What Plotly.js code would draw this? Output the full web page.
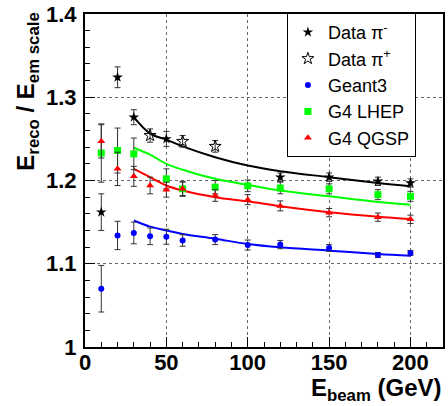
<!DOCTYPE html>
<html>
<head>
<meta charset="utf-8">
<script src="https://cdn.plot.ly/plotly-3.0.1.min.js"></script>
<style>html,body{margin:0;padding:0;background:#fff;}#plot{width:448px;height:406px;}</style>
</head>
<body>
<div id="plot"></div>
<script>
// ---- data ----
const E_pim = [10, 20, 30, 50, 120, 150, 180, 200];
const dataPiMinus = [1.162, 1.324, 1.276, 1.250, 1.204, 1.204, 1.199, 1.197];
const errPiMinus = [0.022, 0.0125, 0.009, 0.009, 0.005, 0.005, 0.005, 0.005];

const E_pip = [40, 60, 80];
const dataPiPlus = [1.254, 1.247, 1.241];
const errPiPlus = [0.008, 0.007, 0.007];

const E_g3 = [10, 20, 30, 40, 50, 60, 80, 100, 120, 150, 180, 200];
const geant3 = [1.070, 1.134, 1.137, 1.133, 1.1325, 1.128, 1.129, 1.1225, 1.123, 1.119, 1.1105, 1.113];
const errGeant3 = [0.028, 0.017, 0.013, 0.010, 0.009, 0.007, 0.006, 0.006, 0.005, 0.004, 0.003, 0.003];

const E_lhep = [10, 20, 30, 50, 60, 80, 100, 120, 150, 180, 200];
const g4lhep = [1.233, 1.236, 1.232, 1.202, 1.190, 1.192, 1.1936, 1.191, 1.190, 1.183, 1.181];
const errLhep = [0.035, 0.027, 0.019, 0.012, 0.009, 0.008, 0.007, 0.007, 0.006, 0.006, 0.006];

const E_qgsp = [10, 20, 30, 40, 50, 60, 80, 100, 120, 150, 180, 200];
const g4qgsp = [1.247, 1.214, 1.205, 1.194, 1.189, 1.190, 1.182, 1.177, 1.1695, 1.1614, 1.156, 1.1534];
const errQgsp = [0.020, 0.020, 0.012, 0.010, 0.009, 0.008, 0.007, 0.006, 0.006, 0.005, 0.005, 0.005];

// fit curves
const E_fit = [30, 40, 50, 60, 80, 100, 120, 150, 180, 200];
const fitData = [1.276, 1.2563, 1.249, 1.241, 1.228, 1.218, 1.2112, 1.204, 1.197, 1.193];
const fitLhep = [1.2394, 1.231, 1.220, 1.2129, 1.202, 1.1948, 1.188, 1.181, 1.1743, 1.171];
const fitQgsp = [1.214, 1.204, 1.194, 1.188, 1.180, 1.175, 1.169, 1.162, 1.1566, 1.1538];
const fitG3 = [1.152, 1.1446, 1.140, 1.1358, 1.130, 1.1237, 1.1197, 1.1157, 1.1117, 1.1096];

const legendNames = ['Data π<sup>-</sup>', 'Data π<sup>+</sup>', 'Geant3', 'G4 LHEP', 'G4 QGSP'];

const ebar = arr => ({type: 'data', array: arr, color: '#333', thickness: 1, width: 3});
const fitLine = (y, c) => ({x: E_fit, y: y, mode: 'lines', line: {color: c, width: 2, shape: 'spline'}, showlegend: false, hoverinfo: 'skip'});

const traces = [
  fitLine(fitData, '#000000'),
  fitLine(fitLhep, '#00ff00'),
  fitLine(fitQgsp, '#ff0000'),
  fitLine(fitG3, '#0000ff'),
  {x: E_pim, y: dataPiMinus, mode: 'markers', name: legendNames[0], error_y: ebar(errPiMinus),
   marker: {symbol: 'star', size: 8, color: '#000'}},
  {x: E_pip, y: dataPiPlus, mode: 'markers', name: legendNames[1], error_y: ebar(errPiPlus),
   marker: {symbol: 'star-open', size: 9, color: '#000', line: {width: 1, color: '#000'}}},
  {x: E_g3, y: geant3, mode: 'markers', name: legendNames[2], error_y: ebar(errGeant3),
   marker: {symbol: 'circle', size: 6, color: '#0000ff'}},
  {x: E_lhep, y: g4lhep, mode: 'markers', name: legendNames[3], error_y: ebar(errLhep),
   marker: {symbol: 'square', size: 7, color: '#00ff00'}},
  {x: E_qgsp, y: g4qgsp, mode: 'markers', name: legendNames[4], error_y: ebar(errQgsp),
   marker: {symbol: 'triangle-up', size: 7, color: '#ff0000'}}
];

const tickFont = {family: 'Liberation Sans, Arial, sans-serif', size: 22, color: '#000', weight: 'bold'};

const layout = {
  width: 448, height: 406,
  margin: {l: 85, r: 5, t: 14, b: 59},
  paper_bgcolor: '#fff', plot_bgcolor: '#fff',
  showlegend: true,
  xaxis: {
    range: [0, 220], tickvals: [0, 50, 100, 150, 200],
    ticks: 'inside', ticklen: 10, tickwidth: 1, tickcolor: '#000',
    minor: {dtick: 10, tick0: 0, ticks: 'inside', ticklen: 5, tickwidth: 1, tickcolor: '#000', showgrid: false},
    showgrid: true, gridcolor: '#666', griddash: 'dot', gridwidth: 1,
    showline: true, linecolor: '#000', linewidth: 2, mirror: true,
    zeroline: false, tickfont: tickFont, ticklabelstandoff: -5
  },
  yaxis: {
    range: [1, 1.4], tick0: 1, dtick: 0.1,
    ticks: 'inside', ticklen: 10, tickwidth: 1, tickcolor: '#000',
    minor: {dtick: 0.02, tick0: 1, ticks: 'inside', ticklen: 5, tickwidth: 1, tickcolor: '#000', showgrid: false},
    showgrid: true, gridcolor: '#666', griddash: 'dot', gridwidth: 1,
    showline: true, linecolor: '#000', linewidth: 2, mirror: true,
    zeroline: false, tickfont: tickFont, ticklabelstandoff: 2
  },
  legend: {
    x: 0.564, y: 1.003, xanchor: 'left', yanchor: 'top',
    bgcolor: '#fff', bordercolor: '#000', borderwidth: 1,
    font: {family: 'Liberation Sans, Arial, sans-serif', size: 18, color: '#000'},
    tracegroupgap: 0, itemsizing: 'trace'
  },
  annotations: [
    {xref: 'paper', yref: 'paper', x: -0.16, y: 0.766, xanchor: 'center', yanchor: 'middle',
     textangle: -90, showarrow: false,
     text: 'E<sub>reco</sub> / E<sub>em scale</sub>',
     font: {family: 'Liberation Sans, Arial, sans-serif', size: 24, color: '#000', weight: 'bold'}},
    {xref: 'paper', yref: 'paper', x: 1.003, y: -0.18, xanchor: 'right', yanchor: 'bottom',
     showarrow: false,
     text: 'E<sub>beam</sub> (GeV)',
     font: {family: 'Liberation Sans, Arial, sans-serif', size: 24, color: '#000', weight: 'bold'}}
  ]
};

Plotly.newPlot('plot', traces, layout, {displayModeBar: false, staticPlot: true});
</script>
</body>
</html>
